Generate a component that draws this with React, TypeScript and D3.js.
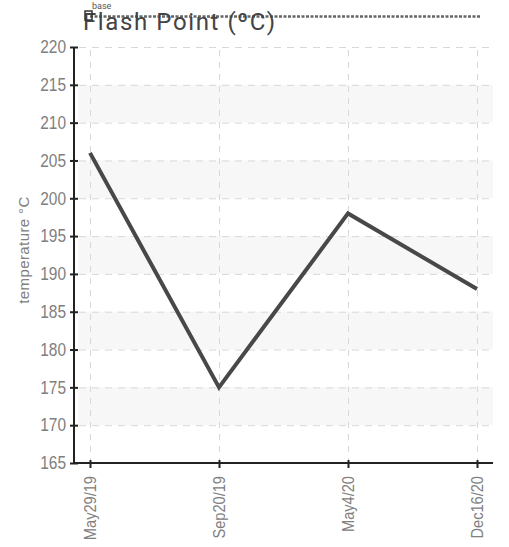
import React, { useEffect, useRef } from "react";
import * as d3 from "d3";

const dates = ["May29/19", "Sep20/19", "May4/20", "Dec16/20"];
const flashPoint = [206, 175, 198, 188];
const yTicks = [165, 170, 175, 180, 185, 190, 195, 200, 205, 210, 215, 220];
const bands = [
  [170, 175],
  [180, 185],
  [190, 195],
  [200, 205],
  [210, 215],
];
const title = "Flash Point (ºC)";
const yLabel = "temperature °C";
const seriesName = "base";

const W = 509;
const H = 547;
const tickFont = "'Liberation Sans', Arial, sans-serif";
const squeeze = 0.86; // tick labels in the reference use a condensed face

const App = () => {
  const svgRef = useRef<SVGSVGElement>(null);

  useEffect(() => {
    const svg = d3.select(svgRef.current);
    svg.selectAll("*").remove();

    const left = 74;
    const right = 493;
    const top = 47;
    const bottom = 463;

    const x = d3.scalePoint<string>().domain(dates).range([left, right]).padding(0.124);
    const y = d3.scaleLinear().domain([165, 220]).range([bottom, top]);

    // alternating bands
    svg
      .append("g")
      .selectAll("rect")
      .data(bands)
      .join("rect")
      .attr("x", left + 4)
      .attr("width", right - left - 4)
      .attr("y", (d) => y(d[1]))
      .attr("height", (d) => y(d[0]) - y(d[1]))
      .attr("fill", "#f7f7f7");

    // grid
    const grid = svg.append("g").attr("stroke", "#d8d8d8");
    grid
      .selectAll(".h")
      .data(yTicks.filter((t) => t !== 165))
      .join("line")
      .attr("stroke-dasharray", "7,6")
      .attr("x1", left + 5)
      .attr("x2", right)
      .attr("y1", (d) => y(d) + 0.5)
      .attr("y2", (d) => y(d) + 0.5);
    grid
      .selectAll(".v")
      .data(dates)
      .join("line")
      .attr("stroke-dasharray", "6,6")
      .attr("x1", (d) => x(d)! + 0.5)
      .attr("x2", (d) => x(d)! + 0.5)
      .attr("y1", top + 3)
      .attr("y2", bottom);

    // line
    const line = d3
      .line<number>()
      .x((_, i) => x(dates[i])!)
      .y((d) => y(d));
    svg
      .append("path")
      .datum(flashPoint)
      .attr("d", line)
      .attr("fill", "none")
      .attr("stroke", "#484848")
      .attr("stroke-width", 4);

    // y axis
    const yAxis = svg
      .append("g")
      .attr("transform", `translate(${left},0)`)
      .call(d3.axisLeft(y).tickValues(yTicks).tickSize(4));
    yAxis.select(".domain").attr("stroke", "#222").attr("stroke-width", 2).attr("d", `M0,${top}V${bottom}`);
    yAxis.selectAll(".tick line").attr("stroke", "#222").attr("stroke-width", 2).attr("x1", 4).attr("x2", -4);
    yAxis
      .selectAll(".tick text")
      .attr("fill", "#808080")
      .attr("font-size", 18)
      .attr("font-family", tickFont)
      .attr("transform", `scale(${squeeze},1)`)
      .attr("x", -8 / squeeze);

    // x axis
    const xAxis = svg
      .append("g")
      .attr("transform", `translate(0,${bottom})`)
      .call(d3.axisBottom(x).tickSize(5));
    xAxis.select(".domain").attr("stroke", "#222").attr("stroke-width", 2).attr("d", `M${left},0H${right}`);
    xAxis.selectAll(".tick line").attr("stroke", "#222").attr("stroke-width", 2).attr("y1", -3);
    xAxis
      .selectAll(".tick text")
      .attr("fill", "#808080")
      .attr("font-size", 17)
      .attr("font-family", tickFont)
      .attr("text-anchor", "end")
      .attr("transform", `rotate(-90) scale(${squeeze},1)`)
      .attr("x", -13 / squeeze)
      .attr("y", 0)
      .attr("dy", "0.35em");

    // y label
    svg
      .append("text")
      .attr("transform", `translate(29,250) rotate(-90)`)
      .attr("text-anchor", "middle")
      .attr("fill", "#808080")
      .attr("font-size", 15)
      .attr("letter-spacing", 0.4)
      .attr("font-family", tickFont)
      .text(yLabel);

    // legend line behind the title
    svg
      .append("line")
      .attr("x1", 90)
      .attr("x2", 481)
      .attr("y1", 16.5)
      .attr("y2", 16.5)
      .attr("stroke", "#666")
      .attr("stroke-width", 2.5)
      .attr("stroke-dasharray", "3,1.5");

    // title
    svg
      .append("text")
      .attr("x", 83)
      .attr("y", 30)
      .attr("fill", "#444")
      .attr("font-size", 24)
      .attr("letter-spacing", 1.6)
      .attr("font-family", "Roboto, sans-serif")
      .text(title);

    // legend marker and name
    svg
      .append("rect")
      .attr("x", 85)
      .attr("y", 11)
      .attr("width", 7)
      .attr("height", 9)
      .attr("fill", "none")
      .attr("stroke", "#333")
      .attr("stroke-width", 1.5);
    svg
      .append("text")
      .attr("x", 92)
      .attr("y", 9)
      .attr("fill", "#555")
      .attr("font-size", 9)
      .attr("font-family", "Roboto, sans-serif")
      .text(seriesName);
  }, []);

  return (
    <svg
      ref={svgRef}
      width={W}
      height={H}
      style={{ position: "absolute", left: 0, top: 0, background: "#fff" }}
    />
  );
};

export default App;
